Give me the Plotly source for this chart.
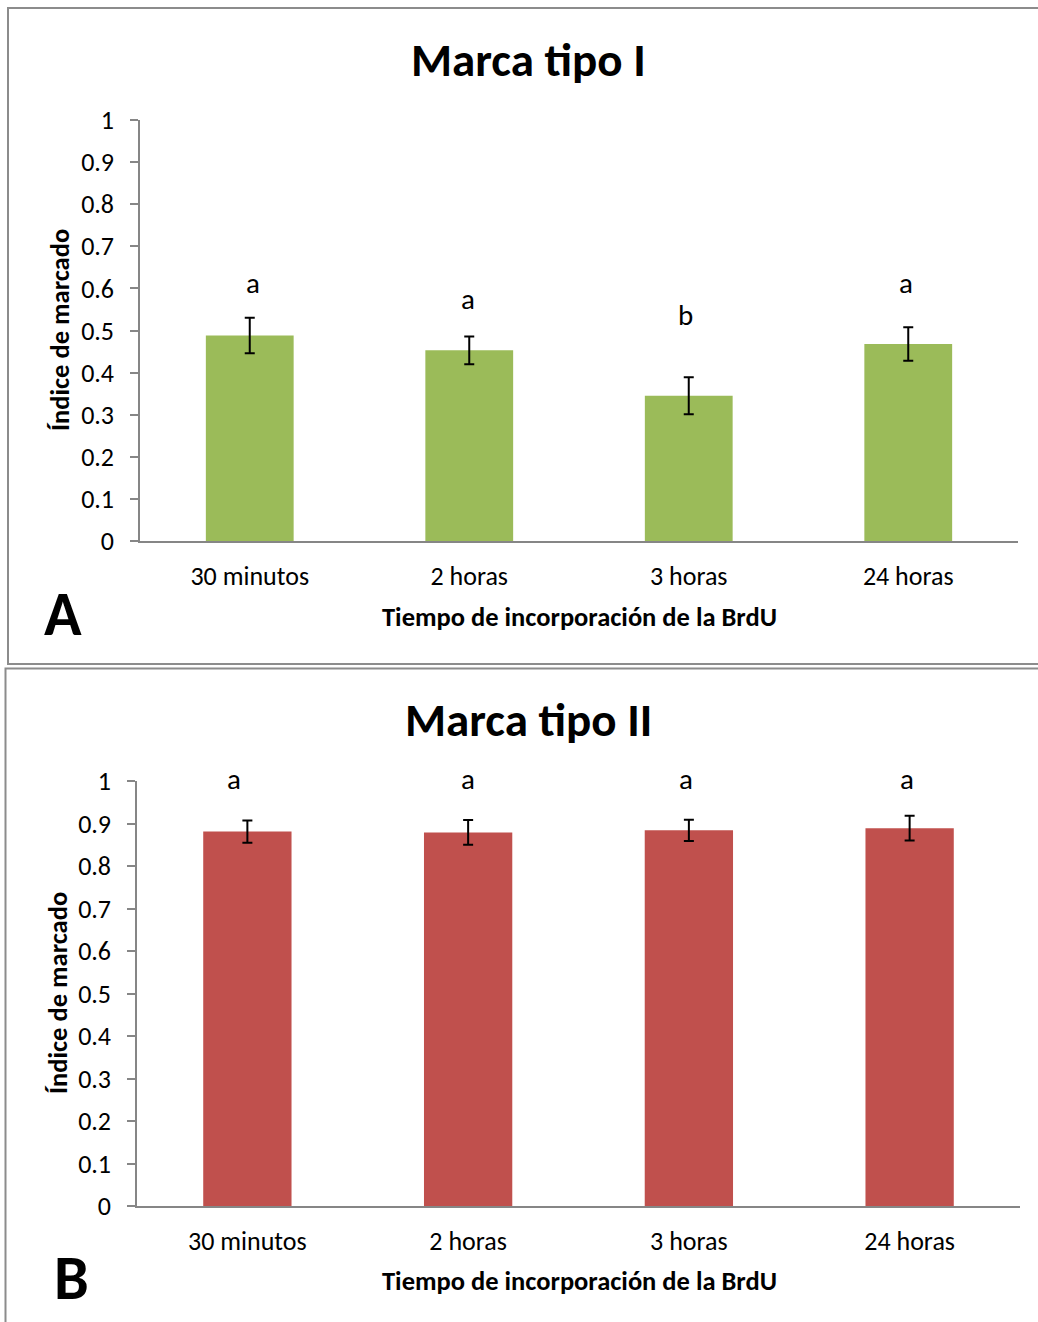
import plotly.graph_objects as go

categories = ["30 minutos", "2 horas", "3 horas", "24 horas"]
means_I = [0.488, 0.453, 0.345, 0.468]
err_I = [0.042, 0.033, 0.044, 0.040]
letters_I = ["a", "a", "b", "a"]
letter_y_I = [0.608, 0.570, 0.532, 0.608]

means_II = [0.881, 0.879, 0.884, 0.889]
err_II = [0.026, 0.029, 0.025, 0.029]
letters_II = ["a", "a", "a", "a"]
letter_y_II = [1.0, 1.0, 1.0, 1.0]

yticks = [0, 0.1, 0.2, 0.3, 0.4, 0.5, 0.6, 0.7, 0.8, 0.9, 1]
ytick_text = ["0", "0.1", "0.2", "0.3", "0.4", "0.5", "0.6", "0.7", "0.8", "0.9", "1"]

W, H = 1038, 1322
FONT = "Carlito, Calibri, Lato, sans-serif"

def px_x(p):
    return p / W

def px_y(p):
    return 1 - p / H

fig = go.Figure()
fig.add_trace(go.Bar(x=categories, y=means_I, marker=dict(color="#9BBB59", line=dict(width=0)),
                     error_y=dict(type="data", array=err_I, color="black", thickness=2, width=5),
                     xaxis="x", yaxis="y", width=0.4, showlegend=False))
fig.add_trace(go.Bar(x=categories, y=means_II, marker=dict(color="#C0504D", line=dict(width=0)),
                     error_y=dict(type="data", array=err_II, color="black", thickness=2, width=5),
                     xaxis="x2", yaxis="y2", width=0.4, showlegend=False))

axis_common_y = dict(range=[0, 1], tickvals=yticks, ticktext=ytick_text, showgrid=False, zeroline=False,
                     showline=True, linecolor="#868686", linewidth=1.5, ticks="outside", ticklen=8,
                     tickcolor="#868686", tickwidth=1.5, tickfont=dict(family=FONT, size=26, color="black"),
                     ticklabelstandoff=11, automargin=False)
axis_common_x = dict(showgrid=False, zeroline=False, showline=True, linecolor="#868686", linewidth=1.5,
                     ticks="", tickfont=dict(family=FONT, size=26, color="black"), ticklabelstandoff=11,
                     automargin=False)

fig.update_layout(
    width=W, height=H, margin=dict(l=0, r=0, t=0, b=0, pad=0, autoexpand=False),
    paper_bgcolor="white", plot_bgcolor="white",
    xaxis=dict(domain=[px_x(140), px_x(1018)], anchor="y", **axis_common_x),
    yaxis=dict(domain=[px_y(541), px_y(120)], anchor="x", **axis_common_y),
    xaxis2=dict(domain=[px_x(137), px_x(1020)], anchor="y2", **axis_common_x),
    yaxis2=dict(domain=[px_y(1206), px_y(781)], anchor="x2", **axis_common_y),
)

ann = []
shifts_I = [3, -1, -3, -2]
for c, l, y, s in zip(categories, letters_I, letter_y_I, shifts_I):
    ann.append(dict(x=c, y=y, xref="x", yref="y", text=l, showarrow=False, xshift=s, yshift=2,
                    font=dict(family=FONT, size=29, color="black")))
shifts_II = [-13, 0, -3, -3]
for c, l, y, s in zip(categories, letters_II, letter_y_II, shifts_II):
    ann.append(dict(x=c, y=y, xref="x2", yref="y2", text=l, showarrow=False, xshift=s, yshift=2,
                    font=dict(family=FONT, size=29, color="black")))

def paper_text(text, x, y, size, bold=True, angle=0):
    t = f"<b>{text}</b>" if bold else text
    return dict(x=px_x(x), y=px_y(y), xref="paper", yref="paper", text=t, showarrow=False,
                textangle=angle, xanchor="center", yanchor="middle",
                font=dict(family=FONT, size=size, color="black"))

ann += [
    paper_text("Marca tipo I", 528, 60, 47),
    paper_text("Marca tipo II", 528, 720, 47),
    paper_text("Índice de marcado", 60, 330, 26.5, angle=-90),
    paper_text("Índice de marcado", 58, 993, 26.5, angle=-90),
    paper_text("Tiempo de incorporación de la BrdU", 579, 617, 26.5),
    paper_text("Tiempo de incorporación de la BrdU", 579, 1281, 26.5),
    paper_text("A", 63, 614, 62),
    paper_text("B", 72, 1278, 62),
]
fig.update_layout(annotations=ann)

fig.update_layout(shapes=[
    dict(type="rect", xref="paper", yref="paper", x0=px_x(8), x1=px_x(1045), y0=px_y(664), y1=px_y(8),
         line=dict(color="#8C8C8C", width=2)),
    dict(type="rect", xref="paper", yref="paper", x0=px_x(5.5), x1=px_x(1045), y0=px_y(1330), y1=px_y(668.5),
         line=dict(color="#8C8C8C", width=2)),
])

fig.write_html("out.html", config={"displayModeBar": False},
               post_script="document.body.style.margin='0';document.body.style.overflow='hidden';")
